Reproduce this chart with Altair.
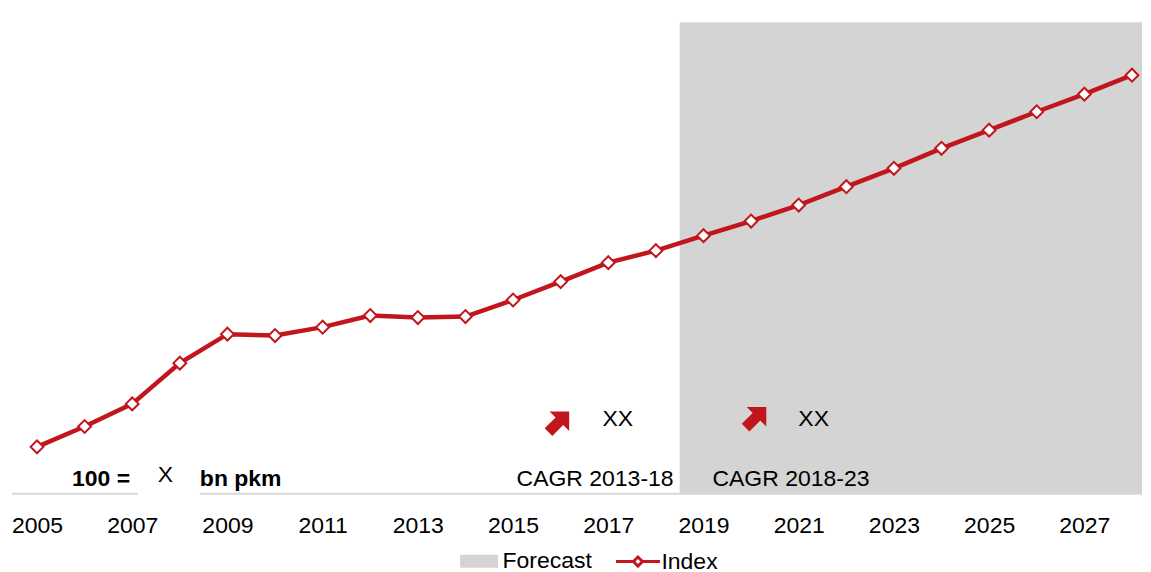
import altair as alt
import pandas as pd

# ---------------- data ----------------
years = list(range(2005, 2029))
index_values = [100.0, 110.2, 121.5, 141.9, 156.4, 155.7, 159.9, 165.7, 164.7, 165.2,
                173.5, 182.7, 192.2, 198.2, 205.7, 213.0, 221.0, 230.2, 239.4, 249.4,
                258.5, 267.7, 276.5, 286.0]
tick_years = [2005, 2007, 2009, 2011, 2013, 2015, 2017, 2019, 2021, 2023, 2025, 2027]

x_domain = [2004.391, 2028.211]
y_domain = [76.5, 319.5]

forecast_start = [2018.5]
forecast_end = [2028.211]
forecast_bottom = [76.5]
forecast_top = [312.5]

axis_seg_start = [2004.475, 2008.42]
axis_seg_end = [2007.12, 2028.211]
axis_seg_value = [76.5, 76.5]

bold_texts = ["100 =", "bn pkm"]
bold_x = [2005.735, 2008.421]
bold_y = [80.5, 80.5]

plain_texts = ["X", "XX", "XX", "CAGR 2013-18", "CAGR 2018-23"]
plain_x = [2007.539, 2016.878, 2020.992, 2015.073, 2019.187]
plain_y = [82.65, 110.5, 110.5, 80.5, 80.5]

arrow_x = [2015.95, 2020.09]
arrow_y = [112.3, 114.5]

legend_names = ["Forecast", "Index"]

# ---------------- style ----------------
RED = "#c0161c"
GRAY = "#d4d4d4"
AXIS_GRAY = "#d9d9d9"
FONT = "Liberation Sans"
FS = 23

ARROW_PATH = "M0,-1L0.9,-0.1L0.35,-0.1L0.35,0.9L-0.35,0.9L-0.35,-0.1L-0.9,-0.1Z"
RECT_PATH = "M-1.9,-0.65H1.9V0.65H-1.9Z"
INDEX_PATH = "M-2.2,0H-0.45M0.45,0H2.2M-0.45,0L0,-0.45L0.45,0L0,0.45Z"

x_scale = alt.Scale(domain=x_domain, nice=False, zero=False)
y_scale = alt.Scale(domain=y_domain, nice=False, zero=False)

x_axis = alt.Axis(values=tick_years, format="d", domain=False, ticks=False, tickSize=0, grid=False,
                  labelFontSize=FS, labelColor="#000", labelPadding=39, labelBaseline="alphabetic",
                  labelFont=FONT, title=None, labelFlush=False, labelOverlap=False)


def X(field):
    return alt.X(field, scale=x_scale, axis=x_axis, title=None)


def Y(field):
    return alt.Y(field, scale=y_scale, axis=None)


df = pd.DataFrame({"year": years, "value": index_values})

axis_rule = alt.Chart(pd.DataFrame({"x0": axis_seg_start, "x1": axis_seg_end, "v": axis_seg_value})).mark_rule(
    color=AXIS_GRAY, strokeWidth=2
).encode(x=X("x0:Q"), x2="x1:Q", y=Y("v:Q"))

rect = alt.Chart(pd.DataFrame({"x0": forecast_start, "x1": forecast_end,
                               "y0": forecast_bottom, "y1": forecast_top})).mark_rect(color=GRAY).encode(
    x=X("x0:Q"), x2="x1:Q", y=Y("y0:Q"), y2="y1:Q")

line = alt.Chart(df).mark_line(color=RED, strokeWidth=4.5).encode(x=X("year:Q"), y=Y("value:Q"))

points = alt.Chart(df).mark_point(shape="diamond", filled=True, fill="white", stroke=RED,
                                  strokeWidth=2, size=165, opacity=1).encode(x=X("year:Q"), y=Y("value:Q"))

bold_layer = alt.Chart(pd.DataFrame({"t": bold_texts, "x": bold_x, "y": bold_y})).mark_text(
    align="left", baseline="alphabetic", font=FONT, fontSize=FS, fontWeight="bold", color="#000"
).encode(x=X("x:Q"), y=Y("y:Q"), text="t:N")

plain_layer = alt.Chart(pd.DataFrame({"t": plain_texts, "x": plain_x, "y": plain_y})).mark_text(
    align="left", baseline="alphabetic", font=FONT, fontSize=FS, color="#000"
).encode(x=X("x:Q"), y=Y("y:Q"), text="t:N")

arrows = alt.Chart(pd.DataFrame({"x": arrow_x, "y": arrow_y})).mark_point(
    shape=ARROW_PATH, filled=True, color=RED, size=949, angle=45, opacity=1
).encode(x=X("x:Q"), y=Y("y:Q"))

leg = alt.Legend(orient="none", legendX=460, legendY=542, direction="horizontal", title=None,
                 labelFontSize=FS, labelFont=FONT, labelColor="#000", labelOffset=12,
                 columnPadding=17, padding=0, symbolSize=400, symbolStrokeWidth=3)

legend_layer = alt.Chart(pd.DataFrame({"series": legend_names})).transform_filter("false").mark_point(
    filled=True, opacity=1, size=400, strokeWidth=3
).encode(
    fill=alt.Fill("series:N", scale=alt.Scale(domain=legend_names, range=[GRAY, "white"]), legend=leg),
    stroke=alt.Stroke("series:N", scale=alt.Scale(domain=legend_names, range=["rgba(0,0,0,0)", RED]), legend=leg),
    shape=alt.Shape("series:N", scale=alt.Scale(domain=legend_names, range=[RECT_PATH, INDEX_PATH]), legend=leg),
)

chart = alt.layer(axis_rule, rect, line, points, bold_layer, plain_layer, arrows, legend_layer).properties(
    width=1135, height=486, padding=0
).configure(font=FONT, view=alt.ViewConfig(stroke=None))

chart.save("out.html", embed_options={"renderer": "svg", "actions": False})
